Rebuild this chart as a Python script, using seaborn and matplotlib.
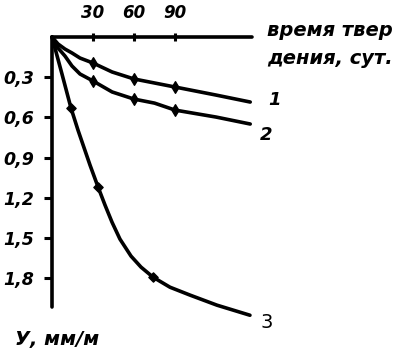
import matplotlib
matplotlib.use("Agg")
import matplotlib.pyplot as plt
import seaborn as sns
import pandas as pd

# ---- data ----
x12 = [0, 4.4, 9.5, 14.6, 20.5, 30, 44, 60, 75, 90, 120, 145]
y1 = [0, 0.052, 0.090, 0.119, 0.157, 0.194, 0.261, 0.313, 0.343, 0.373, 0.433, 0.485]
y2 = [0, 0.082, 0.142, 0.216, 0.276, 0.328, 0.410, 0.463, 0.493, 0.545, 0.597, 0.649]
x3 = [0, 7.3, 13.9, 19.0, 27.8, 33.7, 38.8, 43.9, 49.7, 57.8, 65.1, 73.9, 86.3, 101.0, 120.7, 144.8]
y3 = [0, 0.276, 0.530, 0.694, 0.955, 1.119, 1.254, 1.381, 1.507, 1.634, 1.716, 1.791, 1.866,
      1.925, 2.000, 2.075]
mark12 = [5, 7, 9]          # indices of marked points on curves 1, 2
mark3 = [2, 5, 11]          # indices of marked points on curve 3
curve_labels = ["1", "2", "3"]
xticks = [30, 60, 90]
yticks = [0.3, 0.6, 0.9, 1.2, 1.5, 1.8]
ytick_labels = ["0,3", "0,6", "0,9", "1,2", "1,5", "1,8"]
xlabel = ["время твер", "дения, сут."]
ylabel = "У, мм/м"

sns.set_style("white")
plt.rcParams["font.family"] = ["DejaVu Sans"]
plt.rcParams["text.color"] = "black"

W, H = 397, 356
fig = plt.figure(figsize=(W / 100, H / 100), dpi=100)
left, right, top, bottom = 52, 252, 37, 332
ax = fig.add_axes([left / W, 1 - bottom / H, (right - left) / W, (bottom - top) / H])

df = pd.concat([
    pd.DataFrame({"x": x12, "y": y1, "c": "1"}),
    pd.DataFrame({"x": x12, "y": y2, "c": "2"}),
    pd.DataFrame({"x": x3, "y": y3, "c": "3"}),
])
sns.lineplot(data=df, x="x", y="y", hue="c", palette=["black"] * 3, sort=False,
             linewidth=2.6, legend=False, ax=ax, clip_on=False,
             solid_joinstyle="round", solid_capstyle="round")

mk = pd.concat([
    pd.DataFrame({"x": [x12[i] for i in mark12], "y": [y1[i] for i in mark12]}),
    pd.DataFrame({"x": [x12[i] for i in mark12], "y": [y2[i] for i in mark12]}),
])
sns.scatterplot(data=mk, x="x", y="y", marker="d", s=35, color="black",
                edgecolor="black", linewidth=1, ax=ax, clip_on=False)
mk3 = pd.DataFrame({"x": [x3[i] for i in mark3], "y": [y3[i] for i in mark3]})
sns.scatterplot(data=mk3, x="x", y="y", marker="D", s=22, color="black",
                edgecolor="black", linewidth=1, ax=ax, clip_on=False)

ax.set_xlim(0, 146.3)
ax.set_ylim(2.2, 0)
ax.set_xlabel("")
ax.set_ylabel("")
for s in ["bottom", "right"]:
    ax.spines[s].set_visible(False)
for s in ["top", "left"]:
    ax.spines[s].set_linewidth(2.6)
    ax.spines[s].set_color("black")
    ax.spines[s].set_capstyle("round")
ax.spines["left"].set_bounds(0, 2.015)
ax.spines["top"].set_bounds(0, 146.3)

ax.xaxis.tick_top()
ax.set_xticks(xticks)
ax.set_xticklabels([str(v) for v in xticks], fontsize=12, fontweight="bold", style="italic")
ax.tick_params(axis="x", direction="inout", length=6, width=2.2, pad=8,
               colors="black", labelcolor="black")
ax.set_yticks(yticks)
ax.set_yticklabels(ytick_labels, fontsize=12.5, fontweight="bold", style="italic")
ax.tick_params(axis="y", direction="out", length=6, width=2.2, pad=7,
               colors="black", labelcolor="black")
ax.yaxis.tick_left()

def ftext(x, y, s, **kw):
    fig.text(x / W, 1 - y / H, s, color="black", **kw)

ftext(267, 31, xlabel[0], fontsize=14, fontweight="bold", style="italic", va="center", ha="left")
ftext(267, 58, xlabel[1], fontsize=14, fontweight="bold", style="italic", va="center", ha="left")
ftext(57, 339, ylabel, fontsize=14, fontweight="bold", style="italic", va="center", ha="center")
ftext(274, 100, curve_labels[0], fontsize=13, fontweight="bold", style="italic", va="center", ha="center")
ftext(266, 135, curve_labels[1], fontsize=13, fontweight="bold", style="italic", va="center", ha="center")
ftext(267, 322, curve_labels[2], fontsize=14, va="center", ha="center")

fig.savefig("out.png", dpi=100)
